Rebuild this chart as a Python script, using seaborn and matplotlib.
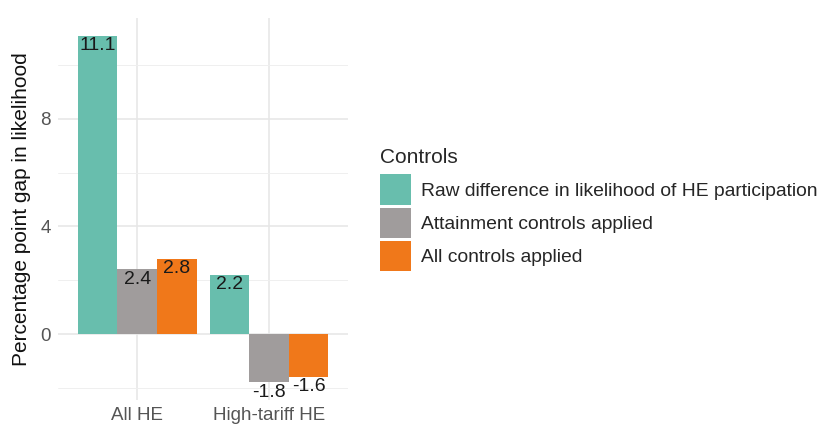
import pandas as pd
import matplotlib.pyplot as plt
import seaborn as sns

groups = ["All HE", "High-tariff HE"]
controls = ["Raw difference in likelihood of HE participation",
            "Attainment controls applied",
            "All controls applied"]
raw_gap = [11.1, 2.2]
attainment_gap = [2.4, -1.8]
all_controls_gap = [2.8, -1.6]

colors = ["#68BEAD", "#A09C9C", "#F0781A"]

df = pd.DataFrame({
    "group": groups * 3,
    "control": [controls[0]] * 2 + [controls[1]] * 2 + [controls[2]] * 2,
    "gap": raw_gap + attainment_gap + all_controls_gap,
})

sns.set_style("whitegrid")
plt.rcParams['font.family'] = ['Liberation Sans', 'DejaVu Sans']

fig = plt.figure(figsize=(8.29, 4.30), dpi=100)
ax = fig.add_axes([0.070, 0.070, 0.350, 0.888])

sns.barplot(data=df, x="group", y="gap", hue="control", order=groups,
            hue_order=controls, palette=colors, width=0.9, gap=0,
            saturation=1, linewidth=0, ax=ax)

# value labels hang from the bar end (top for positive, bottom for negative)
for cont in ax.containers:
    for patch in cont:
        h = patch.get_height()
        y = patch.get_y() + h
        x = patch.get_x() + patch.get_width() / 2
        ax.text(x, y - 0.05, f"{h:.1f}",
                ha="center", va="top", fontsize=14, color="#1a1a1a")

ax.set_xlim(-0.6, 1.6)
ax.set_ylim(-2.45, 11.75)
ax.set_yticks([0, 4, 8])
ax.set_yticks([-2, 2, 6, 10], minor=True)
ax.grid(True, which="major", color="#E6E6E6", linewidth=1.1)
ax.grid(True, which="minor", axis="y", color="#EFEFEF", linewidth=0.7)
ax.set_axisbelow(True)
for s in ax.spines.values():
    s.set_visible(False)
ax.tick_params(axis="both", which="both", length=0, labelsize=13.5,
               labelcolor="#555555", pad=5)
ax.set_xlabel("")
ax.set_ylabel("Percentage point gap in likelihood", fontsize=15,
              color="#111111", labelpad=7)

handles, labels = ax.get_legend_handles_labels()
ax.legend_.remove()
leg = fig.legend(handles, labels, title="Controls", loc="upper left",
                 bbox_to_anchor=(0.458, 0.655), frameon=False,
                 fontsize=13.85, title_fontsize=15,
                 handlelength=1.62, handleheight=2.05,
                 labelspacing=0.15, handletextpad=0.55,
                 borderpad=0, borderaxespad=0)
leg._legend_box.align = "left"
leg._legend_box.sep = 5

fig.savefig("out.png", dpi=100)
plt.close(fig)
